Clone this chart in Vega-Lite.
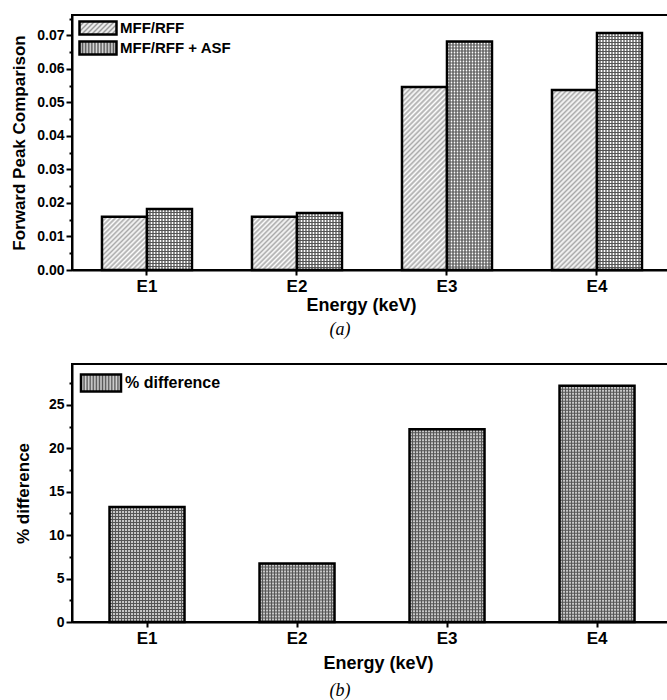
{
"$schema": "https://vega.github.io/schema/vega-lite/v6.json",
"padding": {"left": 9, "top": 9, "right": 0, "bottom": 0},
"datasets": {
 "top": [
  {"energy": "E1", "series": "MFF/RFF", "value": 0.0159},
  {"energy": "E1", "series": "MFF/RFF + ASF", "value": 0.0182},
  {"energy": "E2", "series": "MFF/RFF", "value": 0.0159},
  {"energy": "E2", "series": "MFF/RFF + ASF", "value": 0.0170},
  {"energy": "E3", "series": "MFF/RFF", "value": 0.0546},
  {"energy": "E3", "series": "MFF/RFF + ASF", "value": 0.0682},
  {"energy": "E4", "series": "MFF/RFF", "value": 0.0537},
  {"energy": "E4", "series": "MFF/RFF + ASF", "value": 0.0707}
 ],
 "bottom": [
  {"energy": "E1", "series": "% difference", "pct": 13.25},
  {"energy": "E2", "series": "% difference", "pct": 6.73},
  {"energy": "E3", "series": "% difference", "pct": 22.2},
  {"energy": "E4", "series": "% difference", "pct": 27.19}
 ]
},
"spacing": 7,
"resolve": {"scale": {"x": "independent", "y": "independent", "xOffset": "independent", "fill": "independent"}, "legend": {"fill": "independent"}, "axis": {"x": "independent", "y": "independent"}},
"vconcat": [
 {
  "width": 598, "height": 255,
  "data": {"name": "top"},
  "title": {"text": "(a)", "orient": "bottom", "font": "Liberation Serif", "fontStyle": "italic", "fontWeight": "normal", "fontSize": 18, "dx": -31, "offset": 7, "color": "black"},
  "encoding": {
   "x": {"field": "energy", "type": "nominal", "scale": {"domain": ["E1", "E2", "E3", "E4"], "paddingInner": 0.4, "paddingOuter": 0.1933, "align": 0.517}, "axis": {"title": "Energy (keV)", "labelAngle": 0, "titleX": 289, "titlePadding": 2}},
   "xOffset": {"field": "series", "type": "nominal", "scale": {"domain": ["MFF/RFF", "MFF/RFF + ASF"], "paddingInner": 0, "paddingOuter": 0}},
   "y": {"field": "value", "type": "quantitative", "scale": {"domain": [0, 0.0761], "nice": false},
    "axis": {"title": "Forward Peak Comparison", "titlePadding": 8,
     "values": [0, 0.005, 0.01, 0.015, 0.02, 0.025, 0.03, 0.035, 0.04, 0.045, 0.05, 0.055, 0.06, 0.065, 0.07, 0.075],
     "labelExpr": "round(datum.value*1000) % 10 !== 0 ? '' : format(datum.value, '.2f')",
     "tickSize": {"condition": {"test": "round(datum.value*1000) % 10 !== 0", "value": 3}, "value": 6}}}
  },
  "layer": [
   {"mark": {"type": "bar"},
    "encoding": {"fill": {"field": "series", "type": "nominal", "scale": {"domain": ["MFF/RFF", "MFF/RFF + ASF"], "range": [
      {"expr": "{gradient: 'linear', x1: 0, y1: 0, x2: 1.2027, y2: 0.4222, stops: [{offset: 0, color: '#999'}, {offset: 0.05, color: '#fff'}, {offset: 0.1, color: '#999'}, {offset: 0.15, color: '#fff'}, {offset: 0.2, color: '#999'}, {offset: 0.25, color: '#fff'}, {offset: 0.3, color: '#999'}, {offset: 0.35, color: '#fff'}, {offset: 0.4, color: '#999'}, {offset: 0.45, color: '#fff'}, {offset: 0.5, color: '#999'}, {offset: 0.55, color: '#fff'}, {offset: 0.6, color: '#999'}, {offset: 0.65, color: '#fff'}, {offset: 0.7, color: '#999'}, {offset: 0.75, color: '#fff'}, {offset: 0.8, color: '#999'}, {offset: 0.85, color: '#fff'}, {offset: 0.9, color: '#999'}, {offset: 0.95, color: '#fff'}, {offset: 1, color: '#999'}]}"},
      {"expr": "{gradient: 'linear', x1: 0, y1: 0, x2: 1, y2: 0, stops: [{offset: 0, color: '#555'}, {offset: 0.0417, color: '#ddd'}, {offset: 0.0833, color: '#555'}, {offset: 0.125, color: '#ddd'}, {offset: 0.1667, color: '#555'}, {offset: 0.2083, color: '#ddd'}, {offset: 0.25, color: '#555'}, {offset: 0.2917, color: '#ddd'}, {offset: 0.3333, color: '#555'}, {offset: 0.375, color: '#ddd'}, {offset: 0.4167, color: '#555'}, {offset: 0.4583, color: '#ddd'}, {offset: 0.5, color: '#555'}, {offset: 0.5417, color: '#ddd'}, {offset: 0.5833, color: '#555'}, {offset: 0.625, color: '#ddd'}, {offset: 0.6667, color: '#555'}, {offset: 0.7083, color: '#ddd'}, {offset: 0.75, color: '#555'}, {offset: 0.7917, color: '#ddd'}, {offset: 0.8333, color: '#555'}, {offset: 0.875, color: '#ddd'}, {offset: 0.9167, color: '#555'}, {offset: 0.9583, color: '#ddd'}, {offset: 1, color: '#555'}]}"}]},
     "legend": {"orient": "none", "legendX": 18, "legendY": 5, "title": null, "padding": 0,
      "symbolType": "M-2.846,-1L2.846,-1L2.846,1L-2.846,1Z", "symbolSize": 169, "symbolStrokeWidth": 2.5, "symbolStrokeColor": "black",
      "labelFontSize": 15, "labelFont": "Liberation Sans", "labelFontWeight": "bold", "labelColor": "black", "labelOffset": 14, "rowPadding": -6, "labelLimit": 300}}}},
   {"transform": [{"filter": "datum.series === 'MFF/RFF' && datum.value < 0.03"}],
    "mark": {"type": "bar", "fill": {"gradient": "linear", "x1": 0, "y1": 0, "x2": 0.909, "y2": 1.077, "stops": [
     {"offset": 0, "color": "#aaa"}, {"offset": 0.025, "color": "#fff"}, {"offset": 0.05, "color": "#aaa"}, {"offset": 0.075, "color": "#fff"},
     {"offset": 0.1, "color": "#aaa"}, {"offset": 0.125, "color": "#fff"}, {"offset": 0.15, "color": "#aaa"}, {"offset": 0.175, "color": "#fff"},
     {"offset": 0.2, "color": "#aaa"}, {"offset": 0.225, "color": "#fff"}, {"offset": 0.25, "color": "#aaa"}, {"offset": 0.275, "color": "#fff"},
     {"offset": 0.3, "color": "#aaa"}, {"offset": 0.325, "color": "#fff"}, {"offset": 0.35, "color": "#aaa"}, {"offset": 0.375, "color": "#fff"},
     {"offset": 0.4, "color": "#aaa"}, {"offset": 0.425, "color": "#fff"}, {"offset": 0.45, "color": "#aaa"}, {"offset": 0.475, "color": "#fff"},
     {"offset": 0.5, "color": "#aaa"}, {"offset": 0.525, "color": "#fff"}, {"offset": 0.55, "color": "#aaa"}, {"offset": 0.575, "color": "#fff"},
     {"offset": 0.6, "color": "#aaa"}, {"offset": 0.625, "color": "#fff"}, {"offset": 0.65, "color": "#aaa"}, {"offset": 0.675, "color": "#fff"},
     {"offset": 0.7, "color": "#aaa"}, {"offset": 0.725, "color": "#fff"}, {"offset": 0.75, "color": "#aaa"}, {"offset": 0.775, "color": "#fff"},
     {"offset": 0.8, "color": "#aaa"}, {"offset": 0.825, "color": "#fff"}, {"offset": 0.85, "color": "#aaa"}, {"offset": 0.875, "color": "#fff"},
     {"offset": 0.9, "color": "#aaa"}, {"offset": 0.925, "color": "#fff"}, {"offset": 0.95, "color": "#aaa"}, {"offset": 0.975, "color": "#fff"},
     {"offset": 1, "color": "#aaa"}]}}},
   {"transform": [{"filter": "datum.series === 'MFF/RFF' && datum.value >= 0.03"}],
    "mark": {"type": "bar", "fill": {"gradient": "linear", "x1": 0, "y1": 0, "x2": 0.2919, "y2": 1.176, "stops": [
     {"offset": 0, "color": "#aaa"}, {"offset": 0.0111, "color": "#fff"}, {"offset": 0.0222, "color": "#aaa"}, {"offset": 0.0333, "color": "#fff"},
     {"offset": 0.0444, "color": "#aaa"}, {"offset": 0.0556, "color": "#fff"}, {"offset": 0.0667, "color": "#aaa"}, {"offset": 0.0778, "color": "#fff"},
     {"offset": 0.0889, "color": "#aaa"}, {"offset": 0.1, "color": "#fff"}, {"offset": 0.1111, "color": "#aaa"}, {"offset": 0.1222, "color": "#fff"},
     {"offset": 0.1333, "color": "#aaa"}, {"offset": 0.1444, "color": "#fff"}, {"offset": 0.1556, "color": "#aaa"}, {"offset": 0.1667, "color": "#fff"},
     {"offset": 0.1778, "color": "#aaa"}, {"offset": 0.1889, "color": "#fff"}, {"offset": 0.2, "color": "#aaa"}, {"offset": 0.2111, "color": "#fff"},
     {"offset": 0.2222, "color": "#aaa"}, {"offset": 0.2333, "color": "#fff"}, {"offset": 0.2444, "color": "#aaa"}, {"offset": 0.2556, "color": "#fff"},
     {"offset": 0.2667, "color": "#aaa"}, {"offset": 0.2778, "color": "#fff"}, {"offset": 0.2889, "color": "#aaa"}, {"offset": 0.3, "color": "#fff"},
     {"offset": 0.3111, "color": "#aaa"}, {"offset": 0.3222, "color": "#fff"}, {"offset": 0.3333, "color": "#aaa"}, {"offset": 0.3444, "color": "#fff"},
     {"offset": 0.3556, "color": "#aaa"}, {"offset": 0.3667, "color": "#fff"}, {"offset": 0.3778, "color": "#aaa"}, {"offset": 0.3889, "color": "#fff"},
     {"offset": 0.4, "color": "#aaa"}, {"offset": 0.4111, "color": "#fff"}, {"offset": 0.4222, "color": "#aaa"}, {"offset": 0.4333, "color": "#fff"},
     {"offset": 0.4444, "color": "#aaa"}, {"offset": 0.4556, "color": "#fff"}, {"offset": 0.4667, "color": "#aaa"}, {"offset": 0.4778, "color": "#fff"},
     {"offset": 0.4889, "color": "#aaa"}, {"offset": 0.5, "color": "#fff"}, {"offset": 0.5111, "color": "#aaa"}, {"offset": 0.5222, "color": "#fff"},
     {"offset": 0.5333, "color": "#aaa"}, {"offset": 0.5444, "color": "#fff"}, {"offset": 0.5556, "color": "#aaa"}, {"offset": 0.5667, "color": "#fff"},
     {"offset": 0.5778, "color": "#aaa"}, {"offset": 0.5889, "color": "#fff"}, {"offset": 0.6, "color": "#aaa"}, {"offset": 0.6111, "color": "#fff"},
     {"offset": 0.6222, "color": "#aaa"}, {"offset": 0.6333, "color": "#fff"}, {"offset": 0.6444, "color": "#aaa"}, {"offset": 0.6556, "color": "#fff"},
     {"offset": 0.6667, "color": "#aaa"}, {"offset": 0.6778, "color": "#fff"}, {"offset": 0.6889, "color": "#aaa"}, {"offset": 0.7, "color": "#fff"},
     {"offset": 0.7111, "color": "#aaa"}, {"offset": 0.7222, "color": "#fff"}, {"offset": 0.7333, "color": "#aaa"}, {"offset": 0.7444, "color": "#fff"},
     {"offset": 0.7556, "color": "#aaa"}, {"offset": 0.7667, "color": "#fff"}, {"offset": 0.7778, "color": "#aaa"}, {"offset": 0.7889, "color": "#fff"},
     {"offset": 0.8, "color": "#aaa"}, {"offset": 0.8111, "color": "#fff"}, {"offset": 0.8222, "color": "#aaa"}, {"offset": 0.8333, "color": "#fff"},
     {"offset": 0.8444, "color": "#aaa"}, {"offset": 0.8556, "color": "#fff"}, {"offset": 0.8667, "color": "#aaa"}, {"offset": 0.8778, "color": "#fff"},
     {"offset": 0.8889, "color": "#aaa"}, {"offset": 0.9, "color": "#fff"}, {"offset": 0.9111, "color": "#aaa"}, {"offset": 0.9222, "color": "#fff"},
     {"offset": 0.9333, "color": "#aaa"}, {"offset": 0.9444, "color": "#fff"}, {"offset": 0.9556, "color": "#aaa"}, {"offset": 0.9667, "color": "#fff"},
     {"offset": 0.9778, "color": "#aaa"}, {"offset": 0.9889, "color": "#fff"}, {"offset": 1, "color": "#aaa"}]}}},
   {"transform": [{"filter": "datum.series !== 'MFF/RFF'"}],
    "mark": {"type": "bar", "fill": {"gradient": "linear", "x1": 0, "y1": 0, "x2": 1, "y2": 0, "stops": [
     {"offset": 0, "color": "#555"}, {"offset": 0.0333, "color": "#fff"}, {"offset": 0.0667, "color": "#555"}, {"offset": 0.1, "color": "#fff"},
     {"offset": 0.1333, "color": "#555"}, {"offset": 0.1667, "color": "#fff"}, {"offset": 0.2, "color": "#555"}, {"offset": 0.2333, "color": "#fff"},
     {"offset": 0.2667, "color": "#555"}, {"offset": 0.3, "color": "#fff"}, {"offset": 0.3333, "color": "#555"}, {"offset": 0.3667, "color": "#fff"},
     {"offset": 0.4, "color": "#555"}, {"offset": 0.4333, "color": "#fff"}, {"offset": 0.4667, "color": "#555"}, {"offset": 0.5, "color": "#fff"},
     {"offset": 0.5333, "color": "#555"}, {"offset": 0.5667, "color": "#fff"}, {"offset": 0.6, "color": "#555"}, {"offset": 0.6333, "color": "#fff"},
     {"offset": 0.6667, "color": "#555"}, {"offset": 0.7, "color": "#fff"}, {"offset": 0.7333, "color": "#555"}, {"offset": 0.7667, "color": "#fff"},
     {"offset": 0.8, "color": "#555"}, {"offset": 0.8333, "color": "#fff"}, {"offset": 0.8667, "color": "#555"}, {"offset": 0.9, "color": "#fff"},
     {"offset": 0.9333, "color": "#555"}, {"offset": 0.9667, "color": "#fff"}, {"offset": 1, "color": "#555"}]}}},
   {"transform": [{"filter": "datum.series !== 'MFF/RFF'"}],
    "mark": {"type": "rule", "stroke": "#555", "strokeWidth": 45, "strokeDash": [1, 2]},
    "encoding": {"y2": {"datum": 0}}},
   {"mark": {"type": "bar", "fill": "transparent", "stroke": "black", "strokeWidth": 2.5}}
  ]
 },
 {
  "width": 598, "height": 258,
  "data": {"name": "bottom"},
  "title": {"text": "(b)", "orient": "bottom", "font": "Liberation Serif", "fontStyle": "italic", "fontWeight": "normal", "fontSize": 18, "dx": -31, "offset": 10, "color": "black"},
  "encoding": {
   "x": {"field": "energy", "type": "nominal", "scale": {"domain": ["E1", "E2", "E3", "E4"], "paddingInner": 0.5, "paddingOuter": 0.2433, "align": 0.514}, "axis": {"title": "Energy (keV)", "labelAngle": 0, "titleX": 306, "titlePadding": 8}},
   "y": {"field": "pct", "type": "quantitative", "scale": {"domain": [0, 29.7], "nice": false},
    "axis": {"title": "% difference", "titlePadding": 16,
     "values": [0, 2.5, 5, 7.5, 10, 12.5, 15, 17.5, 20, 22.5, 25, 27.5],
     "labelExpr": "datum.value % 5 !== 0 ? '' : datum.label",
     "tickSize": {"condition": {"test": "datum.value % 5 !== 0", "value": 3}, "value": 6}}}
  },
  "layer": [
   {"mark": {"type": "bar"},
    "encoding": {"fill": {"field": "series", "type": "nominal", "scale": {"domain": ["% difference"], "range": [
      {"expr": "{gradient: 'linear', x1: 0, y1: 0, x2: 1, y2: 0, stops: [{offset: 0, color: '#555'}, {offset: 0.0385, color: '#ddd'}, {offset: 0.0769, color: '#555'}, {offset: 0.1154, color: '#ddd'}, {offset: 0.1538, color: '#555'}, {offset: 0.1923, color: '#ddd'}, {offset: 0.2308, color: '#555'}, {offset: 0.2692, color: '#ddd'}, {offset: 0.3077, color: '#555'}, {offset: 0.3462, color: '#ddd'}, {offset: 0.3846, color: '#555'}, {offset: 0.4231, color: '#ddd'}, {offset: 0.4615, color: '#555'}, {offset: 0.5, color: '#ddd'}, {offset: 0.5385, color: '#555'}, {offset: 0.5769, color: '#ddd'}, {offset: 0.6154, color: '#555'}, {offset: 0.6538, color: '#ddd'}, {offset: 0.6923, color: '#555'}, {offset: 0.7308, color: '#ddd'}, {offset: 0.7692, color: '#555'}, {offset: 0.8077, color: '#ddd'}, {offset: 0.8462, color: '#555'}, {offset: 0.8846, color: '#ddd'}, {offset: 0.9231, color: '#555'}, {offset: 0.9615, color: '#ddd'}, {offset: 1, color: '#555'}]}"}]},
     "legend": {"orient": "none", "legendX": 19, "legendY": 9, "title": null, "padding": 0,
      "symbolType": "M-2.353,-1L2.353,-1L2.353,1L-2.353,1Z", "symbolSize": 289, "symbolStrokeWidth": 2.5, "symbolStrokeColor": "black",
      "labelFontSize": 16, "labelFont": "Liberation Sans", "labelFontWeight": "bold", "labelColor": "black", "labelOffset": 14, "labelLimit": 300}}}},
   {"mark": {"type": "bar", "fill": {"gradient": "linear", "x1": 0, "y1": 0, "x2": 1, "y2": 0, "stops": [
     {"offset": 0, "color": "#555"}, {"offset": 0.02, "color": "#fff"}, {"offset": 0.04, "color": "#555"}, {"offset": 0.06, "color": "#fff"},
     {"offset": 0.08, "color": "#555"}, {"offset": 0.1, "color": "#fff"}, {"offset": 0.12, "color": "#555"}, {"offset": 0.14, "color": "#fff"},
     {"offset": 0.16, "color": "#555"}, {"offset": 0.18, "color": "#fff"}, {"offset": 0.2, "color": "#555"}, {"offset": 0.22, "color": "#fff"},
     {"offset": 0.24, "color": "#555"}, {"offset": 0.26, "color": "#fff"}, {"offset": 0.28, "color": "#555"}, {"offset": 0.3, "color": "#fff"},
     {"offset": 0.32, "color": "#555"}, {"offset": 0.34, "color": "#fff"}, {"offset": 0.36, "color": "#555"}, {"offset": 0.38, "color": "#fff"},
     {"offset": 0.4, "color": "#555"}, {"offset": 0.42, "color": "#fff"}, {"offset": 0.44, "color": "#555"}, {"offset": 0.46, "color": "#fff"},
     {"offset": 0.48, "color": "#555"}, {"offset": 0.5, "color": "#fff"}, {"offset": 0.52, "color": "#555"}, {"offset": 0.54, "color": "#fff"},
     {"offset": 0.56, "color": "#555"}, {"offset": 0.58, "color": "#fff"}, {"offset": 0.6, "color": "#555"}, {"offset": 0.62, "color": "#fff"},
     {"offset": 0.64, "color": "#555"}, {"offset": 0.66, "color": "#fff"}, {"offset": 0.68, "color": "#555"}, {"offset": 0.7, "color": "#fff"},
     {"offset": 0.72, "color": "#555"}, {"offset": 0.74, "color": "#fff"}, {"offset": 0.76, "color": "#555"}, {"offset": 0.78, "color": "#fff"},
     {"offset": 0.8, "color": "#555"}, {"offset": 0.82, "color": "#fff"}, {"offset": 0.84, "color": "#555"}, {"offset": 0.86, "color": "#fff"},
     {"offset": 0.88, "color": "#555"}, {"offset": 0.9, "color": "#fff"}, {"offset": 0.92, "color": "#555"}, {"offset": 0.94, "color": "#fff"},
     {"offset": 0.96, "color": "#555"}, {"offset": 0.98, "color": "#fff"}, {"offset": 1, "color": "#555"}]}}},
   {"mark": {"type": "rule", "stroke": "#555", "strokeWidth": 75, "strokeDash": [1, 2]},
    "encoding": {"y2": {"datum": 0}}},
   {"mark": {"type": "bar", "fill": "transparent", "stroke": "black", "strokeWidth": 2.5}}
  ]
 }
],
"config": {
 "font": "Liberation Sans",
 "view": {"stroke": "black", "strokeWidth": 2},
 "axis": {"domainColor": "black", "domainWidth": 2, "tickColor": "black", "tickWidth": 2, "tickSize": 5, "grid": false,
  "labelFont": "Liberation Sans", "labelFontWeight": "bold", "labelColor": "black", "labelFontSize": 14,
  "titleFont": "Liberation Sans", "titleFontWeight": "bold", "titleColor": "black", "titleFontSize": 17},
 "axisX": {"labelFontSize": 17, "titleFontSize": 18, "labelPadding": 3},
 "axisY": {"labelPadding": 2}
}
}
